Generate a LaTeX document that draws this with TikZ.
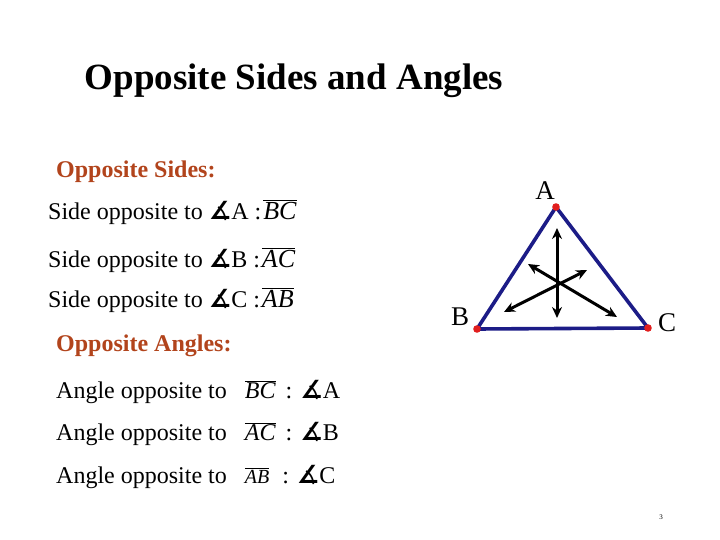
\documentclass[tikz,border=0pt]{standalone}
\usepackage{fontspec}
\setmainfont{Liberation Serif}
\newfontfamily\symfont{DejaVu Sans}
\usetikzlibrary{arrows.meta}
\definecolor{headbrown}{RGB}{178,68,28}
\definecolor{trinavy}{RGB}{28,28,135}
\definecolor{dotred}{RGB}{225,30,30}
\newcommand{\angsym}{{\symfont\bfseries\fontsize{25}{28}\selectfont ∡}}
\newcommand{\seg}[1]{$\overline{\mbox{\textit{#1}}}$}
\begin{document}
\begin{tikzpicture}[x=1pt,y=-1pt,
  txt/.style={anchor=base west,inner sep=0pt,font=\fontsize{24}{28}\selectfont},
  head/.style={txt,font=\fontsize{24}{28}\selectfont\bfseries,text=headbrown},
  vlabel/.style={inner sep=0pt,font=\fontsize{27}{30}\selectfont},
  side/.style={draw=trinavy,line width=3.6pt,line cap=round,line join=round},
  dbl/.style={line width=3pt,{Stealth[length=11pt,width=10pt]}-{Stealth[length=11pt,width=10pt]}}
]
\useasboundingbox (0,0) rectangle (720,540);
\node[anchor=base,inner sep=0pt,font=\fontsize{37}{40}\selectfont\bfseries] (title) at (294,90) {Opposite Sides and Angles};

\node[head] (hs) at (56,178) {Opposite Sides:};
\node[txt] (s1) at (48,219) {Side opposite to \angsym A :\hspace{2pt}{\fontsize{26}{28}\selectfont\seg{BC}}};
\node[txt] (s2) at (48,267) {Side opposite to \angsym B :\hspace{2pt}{\fontsize{26}{28}\selectfont\seg{AC}}};
\node[txt] (s3) at (48,307) {Side opposite to \angsym C :\hspace{2pt}{\fontsize{26}{28}\selectfont\seg{AB}}};

\node[head] (ha) at (56,351) {Opposite Angles:};
\node[txt] (a1) at (56,398) {Angle opposite to\hspace{18pt}\seg{BC}\hspace{10pt}: \angsym A};
\node[txt] (a2) at (56,440) {Angle opposite to\hspace{18pt}\seg{AC}\hspace{10pt}: \angsym B};
\node[txt] (a3) at (56,483) {Angle opposite to\hspace{18pt}{\fontsize{20}{24}\selectfont\seg{AB}}\hspace{13pt}: \angsym C};

% triangle
\coordinate (A) at (556,207);
\coordinate (B) at (477,329);
\coordinate (C) at (648,328);
\draw[side] (A) -- (B) -- (C) -- cycle;
\foreach \p in {A,B,C} \fill[dotred] (\p) circle (3.8pt);
\node[vlabel] (lA) at (545,191) {A};
\node[vlabel] (lB) at (460,317) {B};
\node[vlabel] (lC) at (667,323) {C};

\coordinate (t1) at (557,228);
\coordinate (t2) at (557,318);
\coordinate (t3) at (528,264);
\coordinate (t4) at (617,317);
\coordinate (t5) at (587,270);
\coordinate (t6) at (504,312);
\draw[dbl] (t1) -- (t2);
\draw[dbl] (t3) -- (t4);
\draw[dbl] (t5) -- (t6);

\node[inner sep=0pt,font=\fontsize{7}{8}\selectfont] (pg) at (661,517) {3};
\end{tikzpicture}
\end{document}
